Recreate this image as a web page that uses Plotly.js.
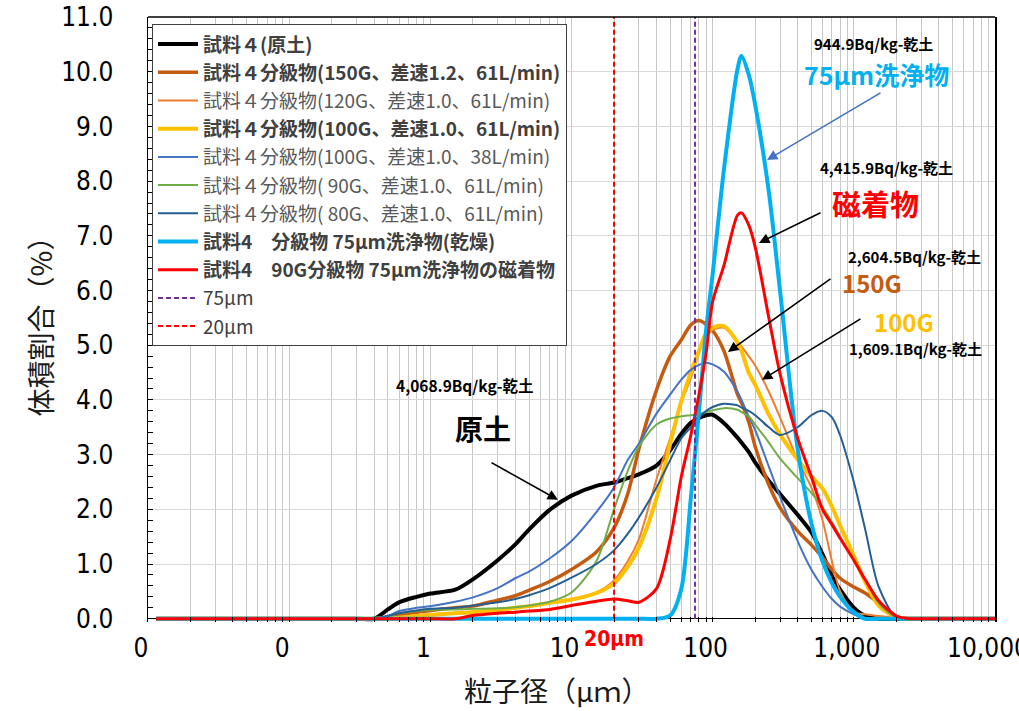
<!DOCTYPE html>
<html>
<head>
<meta charset="utf-8">
<script src="https://cdn.plot.ly/plotly-3.0.1.min.js"></script>
<style>
  html, body { margin: 0; padding: 0; background: #ffffff; }
  #chart { width: 1019px; height: 711px; }
</style>
</head>
<body>
<div id="chart"></div>
<script>
// Particle size grid (µm), shared by every distribution curve
const sizes = [0.0114, 0.3, 0.4, 0.5, 0.6, 0.8, 1, 1.5, 2, 3, 4, 5, 7, 10, 15, 20, 25, 30, 40, 50,
  60, 70, 80, 90, 100, 120, 150, 160, 180, 200, 250, 300, 400, 500, 600, 700, 800, 1000, 1200, 1500,
  2000, 2500, 3000, 10000];

// Volume fraction (%) for each sample
const rawSoil = [0, 0, 0, 0.17, 0.30, 0.40, 0.46, 0.53, 0.72, 1.07, 1.36, 1.63, 1.99, 2.25, 2.43, 2.49, 2.57, 2.64, 2.80, 3.08,
  3.38, 3.58, 3.67, 3.72, 3.73, 3.58, 3.31, 3.22, 3.05, 2.86, 2.52, 2.28, 1.90, 1.58, 1.18, 0.78, 0.53, 0.20, 0.05, 0,
  0, 0, 0, 0];
const cls150G = [0, 0, 0, 0.03, 0.07, 0.12, 0.15, 0.20, 0.23, 0.34, 0.42, 0.52, 0.68, 0.90, 1.22, 1.66, 2.28, 3.10, 4.18, 4.80,
  5.10, 5.37, 5.45, 5.38, 5.27, 4.90, 4.10, 3.95, 3.60, 3.15, 2.45, 2.03, 1.60, 1.35, 1.12, 0.90, 0.74, 0.58, 0.47, 0.29,
  0.04, 0, 0, 0];
const cls120G = [0, 0, 0, 0, 0.03, 0.06, 0.08, 0.11, 0.13, 0.17, 0.20, 0.23, 0.28, 0.35, 0.48, 0.70, 1.05, 1.45, 2.55, 3.30,
  3.95, 4.40, 4.85, 5.15, 5.28, 5.32, 5.07, 4.98, 4.80, 4.63, 4.15, 3.68, 2.90, 2.40, 1.80, 1.05, 0.50, 0.12, 0.08, 0.05,
  0.02, 0, 0, 0];
const cls100G61 = [0, 0, 0, 0, 0.02, 0.05, 0.07, 0.10, 0.12, 0.16, 0.20, 0.23, 0.29, 0.35, 0.47, 0.65, 0.95, 1.30, 2.20, 3.20,
  3.98, 4.50, 4.90, 5.22, 5.32, 5.35, 5.05, 4.90, 4.50, 4.28, 3.73, 3.37, 2.91, 2.60, 2.38, 2.05, 1.70, 1.15, 0.68, 0.24,
  0.02, 0, 0, 0];
const cls100G38 = [0, 0, 0, 0.05, 0.14, 0.20, 0.23, 0.31, 0.39, 0.56, 0.74, 0.86, 1.10, 1.42, 1.95, 2.40, 2.90, 3.20, 3.75, 4.10,
  4.37, 4.55, 4.64, 4.68, 4.65, 4.52, 4.15, 4.00, 3.70, 3.45, 2.78, 2.23, 1.42, 0.90, 0.58, 0.36, 0.22, 0.08, 0.01, 0,
  0, 0, 0, 0];
const cls90G = [0, 0, 0, 0.04, 0.10, 0.14, 0.16, 0.17, 0.18, 0.19, 0.21, 0.24, 0.31, 0.48, 1.05, 2.00, 2.70, 3.15, 3.55, 3.66,
  3.70, 3.72, 3.74, 3.78, 3.81, 3.85, 3.82, 3.78, 3.70, 3.55, 3.22, 2.93, 2.57, 2.30, 2.04, 1.77, 1.50, 1.07, 0.72, 0.28,
  0.02, 0, 0, 0];
const cls80G = [0, 0, 0, 0.05, 0.10, 0.15, 0.18, 0.20, 0.24, 0.30, 0.36, 0.43, 0.56, 0.75, 1.00, 1.25, 1.55, 1.85, 2.40, 2.90,
  3.30, 3.50, 3.68, 3.80, 3.87, 3.93, 3.90, 3.86, 3.80, 3.72, 3.50, 3.36, 3.50, 3.72, 3.80, 3.68, 3.35, 2.50, 1.65, 0.58,
  0.02, 0, 0, 0];
const washed75 = [0, 0, 0, 0, 0, 0, 0, 0, 0, 0, 0, 0, 0, 0, 0, 0, 0, 0, 0, 0.06,
  0.55, 2.20, 3.80, 5.30, 6.30, 8.20, 10.05, 10.29, 9.95, 9.40, 7.80, 6.00, 3.10, 1.75, 1.05, 0.65, 0.40, 0.12, 0, 0,
  0, 0, 0, 0];
const magnetic = [0, 0, 0, 0, 0, 0, 0, 0, 0.06, 0.10, 0.12, 0.14, 0.17, 0.24, 0.32, 0.36, 0.33, 0.30, 0.55, 1.45,
  2.60, 3.35, 4.10, 4.87, 5.80, 6.45, 7.38, 7.42, 7.20, 6.80, 5.50, 4.48, 3.30, 2.60, 2.00, 1.72, 1.47, 1.07, 0.72, 0.33,
  0.05, 0, 0, 0];

// Reference sieve sizes (µm) and the vertical extent of their marker lines (%)
const cutSizes = [75, 20];
const cutLabels = ['75μm', '20μm'];
const cutSpan = [0, 11];

// Legend labels
const seriesNames = [
  '<b>試料４(原土)</b>',
  '<b>試料４分級物(150G、差速1.2、61L/min)</b>',
  '<span style="color:#595959">試料４分級物(120G、差速1.0、61L/min)</span>',
  '<b>試料４分級物(100G、差速1.0、61L/min)</b>',
  '<span style="color:#595959">試料４分級物(100G、差速1.0、38L/min)</span>',
  '<span style="color:#595959">試料４分級物( 90G、差速1.0、61L/min)</span>',
  '<span style="color:#595959">試料４分級物( 80G、差速1.0、61L/min)</span>',
  '<b>試料4　分級物 75μm洗浄物(乾燥)</b>',
  '<b>試料4　90G分級物 75μm洗浄物の磁着物</b>'
];
const seriesData = [rawSoil, cls150G, cls120G, cls100G61, cls100G38, cls90G, cls80G, washed75, magnetic];
const seriesColors = ['#000000', '#C55A11', '#ED7D31', '#FFC000', '#4472C4', '#70AD47', '#255E91', '#00B0F0', '#FF0000'];
const seriesWidths = [4, 3.5, 2, 4, 2, 2, 2, 4, 3];

// Axis tick labels
const xTickVals = [0.01, 0.1, 1, 10, 100, 1000, 10000];
const xTickText = ['0', '0', '1', '10', '100', '1,000', '10,000'];

const traces = seriesData.map((ys, i) => ({
  type: 'scatter',
  mode: 'lines',
  x: sizes,
  y: ys,
  name: seriesNames[i],
  legendgroup: 'g' + i,
  line: { color: seriesColors[i], width: seriesWidths[i], shape: 'spline', smoothing: 0.8 },
  hoverinfo: 'skip'
}));

const cutColors = ['#7030A0', '#FF0000'];
cutSizes.forEach((s, i) => {
  traces.push({
    type: 'scatter',
    mode: 'lines',
    x: [s, s],
    y: cutSpan,
    name: cutLabels[i],
    legendgroup: 'c' + i,
    line: { color: cutColors[i], width: 2, dash: '5px,3px' },
    hoverinfo: 'skip'
  });
});

// minor grid positions (2..9 within each decade)
const minorVals = [];
for (let d = -2; d < 4; d++) {
  for (let k = 2; k <= 9; k++) minorVals.push(k * Math.pow(10, d));
}

const narrow = '"Liberation Sans Narrow", "DejaVu Sans Condensed", "Liberation Sans", sans-serif';
const jp = '"Noto Sans CJK JP", "Noto Sans", sans-serif';

function note(text, x, y, size, color) {
  return { text: text, x: x, y: y, xref: 'x', yref: 'y', showarrow: false,
    font: { family: jp, size: size, color: color, weight: 700 }, xanchor: 'center', yanchor: 'middle' };
}
function pointer(x, y, ax, ay, color) {
  return { text: '', x: x, y: y, ax: ax, ay: ay, xref: 'x', yref: 'y', axref: 'x', ayref: 'y',
    showarrow: true, arrowhead: 2, arrowsize: 1.3, arrowwidth: 1.6, arrowcolor: color };
}

const layout = {
  width: 1019,
  height: 711,
  margin: { l: 148, r: 24, t: 17, b: 89 },
  paper_bgcolor: '#ffffff',
  plot_bgcolor: '#ffffff',
  font: { family: jp, color: '#000000' },
  showlegend: true,
  hovermode: false,
  legend: {
    x: 0.0047, y: 0.988, xanchor: 'left', yanchor: 'top',
    bgcolor: '#ffffff', bordercolor: '#404040', borderwidth: 1,
    font: { family: jp, size: 19, color: '#404040' },
    itemwidth: 40, traceorder: 'grouped', tracegroupgap: 0.5
  },
  xaxis: {
    type: 'log',
    range: [-2, 4],
    tickmode: 'array',
    tickvals: xTickVals,
    ticktext: xTickText,
    ticks: 'inside', ticklen: 5, tickcolor: '#000000',
    showgrid: true, gridcolor: '#c8c8c8', gridwidth: 1,
    minor: { tickmode: 'array', tickvals: minorVals, ticks: 'inside', ticklen: 5, tickcolor: '#000000',
      showgrid: true, gridcolor: '#c8c8c8', gridwidth: 1 },
    showline: false, zeroline: false,
    tickfont: { family: narrow, size: 26, color: '#000000' },
    ticklabelshift: -7,
    ticklabelstandoff: 8,
    ticklabeloverflow: 'allow'
  },
  yaxis: {
    range: [-0.06, 11.001],
    tickmode: 'linear', tick0: 0, dtick: 1, tickformat: '.1f',
    ticks: 'inside', ticklen: 5, tickcolor: '#000000',
    showgrid: true, gridcolor: '#d9d9d9', gridwidth: 1,
    zeroline: true, zerolinecolor: '#000000', zerolinewidth: 1.5,
    showline: true, linecolor: '#000000', linewidth: 1.5, mirror: true,
    minor: { dtick: 0.2, ticks: 'inside', ticklen: 5, tickcolor: '#000000', showgrid: false },
    tickfont: { family: narrow, size: 26, color: '#000000' },
    ticklabelstandoff: 28,
    title: { text: '体積割合（%）', font: { family: jp, size: 28, color: '#1a1a1a' }, standoff: 0 }
  },
  shapes: [
    { type: 'line', xref: 'paper', yref: 'paper', x0: 0, x1: 1, y0: 1, y1: 1,
      line: { color: '#000000', width: 1.5 } }
  ],
  annotations: [
    { text: '粒子径（μｍ）', xref: 'paper', yref: 'paper', x: 0.483, y: -0.112, showarrow: false,
      xanchor: 'center', yanchor: 'middle', font: { family: jp, size: 28, color: '#1a1a1a' } },
    { text: '20μm', xref: 'x', yref: 'paper', x: Math.log10(20), y: -0.028, showarrow: false,
      xanchor: 'center', yanchor: 'middle', font: { family: narrow, size: 21, color: '#FF0000', weight: 700 } },
    note('4,068.9Bq/kg-乾土', 0.2455, 4.276, 15.5, '#000000'),
    note('原土', 0.373, 3.49, 28, '#000000'),
    pointer(0.9043, 2.174, 0.4226, 2.869, '#000000'),
    note('944.9Bq/kg-乾土', 3.1428, 10.524, 15, '#000000'),
    note('75μm洗浄物', 3.157, 9.958, 25, '#00B0F0'),
    pointer(2.3848, 8.387, 3.1995, 9.629, '#4472C4'),
    note('4,415.9Bq/kg-乾土', 3.228, 8.241, 15, '#000000'),
    note('磁着物', 3.15, 7.60, 29, '#FF0000'),
    pointer(2.3282, 6.870, 2.7744, 7.437, '#000000'),
    note('2,604.5Bq/kg-乾土', 3.433, 6.614, 15, '#000000'),
    note('150G', 3.129, 6.139, 24, '#C55A11'),
    pointer(2.1086, 4.878, 2.8453, 6.231, '#000000'),
    note('100G', 3.355, 5.427, 24, '#FFC000'),
    note('1,609.1Bq/kg-乾土', 3.440, 4.933, 15, '#000000'),
    pointer(2.3494, 4.367, 3.0578, 5.5, '#000000')
  ]
};

Plotly.newPlot('chart', traces, layout, { staticPlot: true, displayModeBar: false });
</script>
</body>
</html>
